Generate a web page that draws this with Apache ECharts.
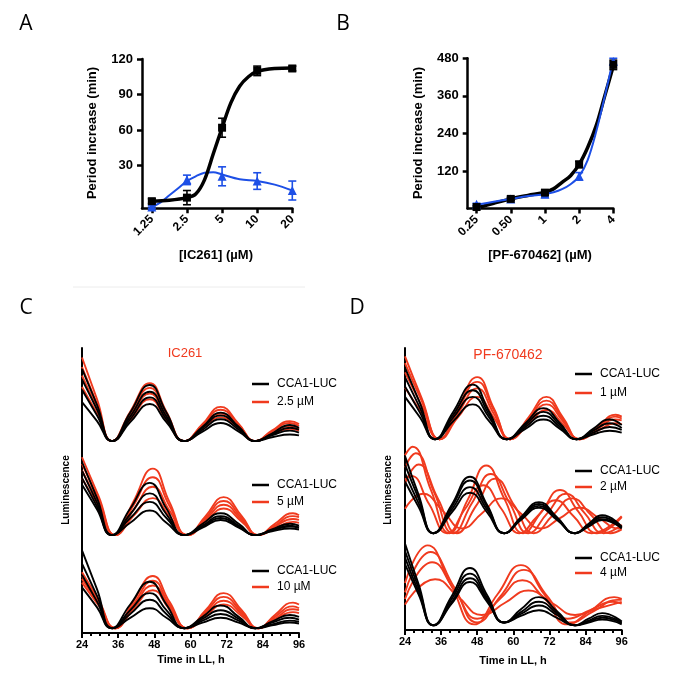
<!DOCTYPE html>
<html><head><meta charset="utf-8">
<script src="https://cdn.jsdelivr.net/npm/echarts@6.0.0/dist/echarts.min.js"></script>
<style>html,body{margin:0;padding:0;background:#fff}#c{width:683px;height:688px}</style>
</head><body><div id="c"></div>
<script>
// ---------- Panel A / B data ----------
const doseA = ['1.25','2.5','5','10','20'];
const doseB = ['0.25','0.50','1','2','4'];
const aBlack = [0,3,62,110,112];
const aBlackErr = [2,6,8,4,2];
const aBlue = [-5,18,21,17,9];
const aBlueErr = [1,4,8,7,8];
const aBlackFitX = [0,0.5,1,1.25,1.5,1.75,2,2.25,2.5,2.75,3,3.5,4];
const aBlackFitY = [0,0.8,3,6,18,40,62,83,97,105,109.5,112,112.5];
const aBlueFitX = [0,0.25,0.5,0.75,1,1.25,1.5,1.75,2,2.5,3,3.5,4];
const aBlueFitY = [-5,-1,5,11,17,21,24,24.5,22.5,18.5,17,14,9];
const bBlack = [5,31,51,141,459];
const bBlackErr = [3,5,8,10,15];
const bBlue = [14,31,46,103,470];
const bBlueErr = [3,4,10,12,10];
const bBlackFitX = [0,0.5,1,1.5,2,2.25,2.5,2.75,3,3.25,3.5,3.75,4];
const bBlackFitY = [2,17,31,42,52,63,84,105,141,195,265,360,455];
const bBlueFitX = [0,0.5,1,1.5,2,2.25,2.5,2.75,3,3.25,3.5,3.75,4];
const bBlueFitY = [12,22,31,40,46,52,62,78,103,155,246,358,478];
const yTicksA = [30,60,90,120];
const yTicksB = [120,240,360,480];

// ---------- Panel C / D luminescence traces (relative units, read at key times) ----------
const cT   = [24,29,34,40,46.5,52,58,64,70,76,81.5,87,93,96];
const cTr  = [24,29.5,35,41,47.5,53,59,65,71,77,82.5,88,94,96];
const dT1  = [24,29,34,40,46.5,52,57.8,64,70,75.5,81,86.5,92,96];
const dR1  = [24,29.5,35.5,41.5,48,53.5,59,65,71,76.5,82,88,94,96];
const dT23 = [24,28.5,33.5,39.5,45.6,51.3,57,62.5,68.5,74.5,80.5,85,89.5,96];
const dMidRedT = [
 [24,26.5,32.6,38.75,44.9,51,57.1,63.25,69.4,75.5,81.6,87.75,96],
 [24,27.5,33.75,40,46.25,52.5,58.75,65,71.25,77.5,83.75,90,96],
 [24,28.5,34.9,41.25,47.6,54,60.4,66.75,73.1,79.5,85.9,92.25,96],
 [24,26,32,38,44,50,56,62,68,74,80,86,96],
 [24,30,36.5,43,49.5,56,62.5,69,75.5,82,88.5,95,96]];
const dBotRedT = [
 [24,31.5,39.25,47,54.75,62.5,70.25,78,85.75,93.5,96],
 [24,32.5,40.25,48,55.75,63.5,71.25,79,86.75,94.5,96],
 [24,33,40.5,48,55.5,63,70.5,78,85.5,93,96],
 [24,34,41.75,49.5,57.25,65,72.75,80.5,88.25,96]];

const cCtlTop = [
 [78,40,2,32,61,32,2,17,32,17,2,10,19,16],
 [67,35,2,28,54,28,2,16,29,16,2,9,16,14],
 [56,29,2,25,48,25,2,14,25,14,2,8,13,11],
 [43,23,2,22,41,22,2,12,21,12,2,6,9,8]];
const cDrugTop = [
 [90,46,2,33,63,33,2,20,38,20,2,13,23,20],
 [80,41,2,30,58,30,2,19,35,19,2,12,21,18],
 [71,37,2,27,52,27,2,17,31,17,2,10,18,15],
 [59,31,2,24,46,24,2,15,27,15,2,9,15,13]];
const cCtlMid = [
 [80,42,3,31,58,31,3,15,26,15,3,9,15,13],
 [71,37,3,25,47,25,3,13,23,13,3,8,13,11],
 [63,33,3,21,38,21,3,12,21,12,3,8,12,11],
 [56,30,3,16,29,16,3,11,19,11,3,7,10,9]];
const cDrugMid = [
 [85,44,3,38,73,38,3,23,43,23,3,15,26,24],
 [78,41,3,34,64,34,3,21,39,21,3,13,23,22],
 [71,37,3,29,54,29,3,19,35,19,3,12,20,19],
 [63,33,3,23,42,23,3,17,31,17,3,10,17,16]];
const cCtlBot = [
 [87,46,5,30,54,30,5,17,29,17,5,12,19,17],
 [73,39,5,24,42,24,5,15,24,15,5,11,16,14],
 [61,33,5,20,35,20,5,13,20,13,5,9,13,12],
 [48,27,5,16,26,16,5,11,16,11,5,8,11,10]];
const cDrugBot = [
 [64,35,5,33,60,33,5,24,42,24,5,19,32,30],
 [60,33,5,30,55,30,5,22,38,22,5,17,28,26],
 [57,31,5,28,50,28,5,20,34,20,5,15,25,24],
 [53,29,5,25,45,25,5,18,30,18,5,14,22,21]];
const dCtlTop = [
 [79,41,3,32,61,32,3,20,36,20,3,14,24,18],
 [69,36,3,29,55,29,3,18,32,18,3,12,20,15],
 [59,31,3,26,48,26,3,16,28,16,3,10,16,13],
 [48,26,3,22,40,22,3,14,24,14,3,8,12,10]];
const dDrugTop = [
 [91,47,3,36,69,36,3,26,48,26,3,16,29,27],
 [84,44,3,34,64,34,3,24,44,24,3,15,27,25],
 [74,39,3,30,57,30,3,22,40,22,3,14,24,23],
 [58,31,3,26,48,26,3,19,34,19,3,12,20,19]];
const dCtlMid = [
 [85,44,3,33,63,33,3,20,36,20,3,13,22,10],
 [76,40,3,31,59,31,3,19,34,19,3,12,20,9],
 [67,35,3,28,52,28,3,18,32,18,3,11,18,9],
 [58,31,3,25,46,25,3,17,30,17,3,10,17,8]];
const dDrugMid = [
 [86,95,49,3,39,75,39,3,26,49,26,3,20],
 [73,88,46,3,35,66,35,3,24,45,24,3,12],
 [56,76,40,3,32,61,32,3,22,40,22,3,7],
 [60,64,34,3,29,54,29,3,21,38,21,3,21],
 [29,45,27,8,24,40,24,8,19,30,19,8,8]];
const dCtlBot = [
 [92,49,5,36,66,37,8,22,35,20,5,12,18,9],
 [84,45,5,33,60,34,8,19,30,18,5,10,15,8],
 [77,41,5,30,55,32,8,17,26,16,5,9,13,7],
 [70,38,5,28,51,30,8,15,21,13,5,8,11,6]];
const dDrugBot = [
 [50,90,48,6,38,69,38,6,21,35,33],
 [40,83,46,8,36,64,36,8,20,32,32],
 [33,72,42,12,33,53,33,12,21,30,28],
 [27,54,35,16,29,42,29,16,23,30]];
const legendCtl = 'CCA1-LUC';
const legendC = ['2.5 µM','5 µM','10 µM'];
const legendD = ['1 µM','2 µM','4 µM'];

// ---------- styling ----------
const BLACK = '#000000', BLUE = '#1d4fe6', RED = '#f03a1e';
const FONT = 'Liberation Sans, Arial, sans-serif';

const chart = echarts.init(document.getElementById('c'), null, {renderer:'canvas'});

function zip(xs, ys){ return xs.map((x,i)=>[x, ys[i]]); }
function errData(vals, errs){ return vals.map((v,i)=>[i, v-errs[i], v+errs[i]]); }
function errSeries(xi, data, color, cap){
  return {type:'custom', xAxisIndex:xi, yAxisIndex:xi, data, silent:true, z:4,
    renderItem(params, api){
      const x = api.value(0);
      const p1 = api.coord([x, api.value(1)]), p2 = api.coord([x, api.value(2)]);
      const st = {stroke:color, lineWidth:1.6};
      return {type:'group', children:[
        {type:'line', shape:{x1:p1[0],y1:p1[1],x2:p2[0],y2:p2[1]}, style:st},
        {type:'line', shape:{x1:p1[0]-cap,y1:p1[1],x2:p1[0]+cap,y2:p1[1]}, style:st},
        {type:'line', shape:{x1:p2[0]-cap,y1:p2[1],x2:p2[0]+cap,y2:p2[1]}, style:st}]};
    }};
}

const grids = [
  {left:142, top:59, width:150.3, height:149.3},
  {left:467.7, top:58.3, width:145.6, height:150.3},
  {left:82, top:348, width:217, height:95},
  {left:82, top:443, width:217, height:95},
  {left:82, top:538, width:217, height:95},
  {left:405, top:348, width:216.7, height:94},
  {left:405, top:442, width:216.7, height:94},
  {left:405, top:536, width:216.7, height:94}
];

function doseXAxis(gi, min, labels){
  return {gridIndex:gi, type:'value', min:min, max:4,
    axisLine:{onZero:false, lineStyle:{color:BLACK, width:2.5}},
    axisTick:{customValues:[0,1,2,3,4], length:5, lineStyle:{color:BLACK, width:2.5}},
    axisLabel:{customValues:[0,1,2,3,4], formatter:v=>labels[Math.round(v)], rotate:45,
      color:BLACK, fontWeight:'bold', fontSize:12, fontFamily:FONT, margin:9},
    splitLine:{show:false}};
}
function doseYAxis(gi, min, max, ticks){
  return {gridIndex:gi, type:'value', min, max,
    axisLine:{show:true, onZero:false, lineStyle:{color:BLACK, width:2.5}},
    axisTick:{show:true, customValues:ticks, length:5, lineStyle:{color:BLACK, width:2.5}},
    axisLabel:{customValues:ticks, color:BLACK, fontWeight:'bold', fontSize:13, fontFamily:FONT, margin:9},
    splitLine:{show:false}};
}
function timeXAxis(gi, show){
  return {gridIndex:gi, type:'value', min:24, max:96, interval:12, show:show,
    axisLine:{onZero:false, lineStyle:{color:BLACK, width:2}},
    axisTick:{length:5, lineStyle:{color:BLACK, width:2}},
    minorTick:{show:true, splitNumber:4, length:3, lineStyle:{color:BLACK, width:2}},
    axisLabel:{color:BLACK, fontWeight:'bold', fontSize:11, fontFamily:FONT, margin:6},
    splitLine:{show:false}};
}
function lumYAxis(gi){
  return {gridIndex:gi, type:'value', min:0, max:100,
    axisLine:{show:true, onZero:false, lineStyle:{color:BLACK, width:2}},
    axisTick:{show:false}, axisLabel:{show:false}, splitLine:{show:false}};
}

const xAxes = [doseXAxis(0,-0.28,doseA), doseXAxis(1,-0.26,doseB),
  timeXAxis(2,false), timeXAxis(3,false), timeXAxis(4,true),
  timeXAxis(5,false), timeXAxis(6,false), timeXAxis(7,true)];
const yAxes = [doseYAxis(0,-6,120,yTicksA), doseYAxis(1,0,480,yTicksB),
  lumYAxis(2), lumYAxis(3), lumYAxis(4), lumYAxis(5), lumYAxis(6), lumYAxis(7)];

const series = [];
function fitLine(ai, xs, ys, color, w){
  series.push({type:'line', xAxisIndex:ai, yAxisIndex:ai, data:zip(xs,ys), smooth:0.35,
    showSymbol:false, symbol:'none', silent:true, z:3, lineStyle:{color, width:w}});
}
function points(ai, vals, color, sym, size){
  series.push({type:'scatter', xAxisIndex:ai, yAxisIndex:ai, data:vals.map((v,i)=>[i,v]),
    symbol:sym, symbolSize:size, itemStyle:{color, opacity:1}, silent:true, z:5});
}
// Panel A
fitLine(0, aBlueFitX, aBlueFitY, BLUE, 2);
series.push(errSeries(0, errData(aBlue,aBlueErr), BLUE, 4));
points(0, aBlue, BLUE, 'triangle', 9);
fitLine(0, aBlackFitX, aBlackFitY, BLACK, 3.5);
series.push(errSeries(0, errData(aBlack,aBlackErr), BLACK, 4));
points(0, aBlack, BLACK, 'rect', 8);
// Panel B
fitLine(1, bBlackFitX, bBlackFitY, BLACK, 3.5);
series.push(errSeries(1, errData(bBlue,bBlueErr), BLUE, 4));
points(1, bBlue, BLUE, 'triangle', 9);
fitLine(1, bBlueFitX, bBlueFitY, BLUE, 2);
series.push(errSeries(1, errData(bBlack,bBlackErr), BLACK, 4));
points(1, bBlack, BLACK, 'rect', 8);

// Panels C, D
function traces(gi, times, sets, color){
  sets.forEach((tr, k) => {
    const t = Array.isArray(times[0]) ? times[k] : times;
    series.push({type:'line', xAxisIndex:gi, yAxisIndex:gi,
      data:zip(t, tr), smooth:0.5, showSymbol:false, symbol:'none', silent:true,
      lineStyle:{color, width:1.9}});
  });
}
traces(2, cT, cDrugTop, RED);   traces(2, cT, cCtlTop, BLACK);
traces(3, cTr, cDrugMid, RED);  traces(3, cT, cCtlMid, BLACK);
traces(4, cTr, cDrugBot, RED);  traces(4, cT, cCtlBot, BLACK);
traces(5, dR1, dDrugTop, RED);  traces(5, dT1, dCtlTop, BLACK);
traces(6, dMidRedT, dDrugMid, RED); traces(6, dT23, dCtlMid, BLACK);
traces(7, dBotRedT, dDrugBot, RED); traces(7, dT23, dCtlBot, BLACK);

// ---------- texts / legends ----------
const g = [];
function txt(x, y, text, opt){
  opt = opt || {};
  g.push({type:'text', x, y, rotation:opt.rot||0, silent:true, z:10,
    style:{text, fill:opt.color||BLACK, align:opt.align||'center', verticalAlign:'middle',
      font:(opt.weight||'normal')+' '+(opt.size||12)+'px '+(opt.family||FONT)}});
}
const LET = 'Open Sans, Noto Sans, sans-serif';
txt(26, 24, 'A', {size:21, family:LET});
txt(343, 24, 'B', {size:21, family:LET});
txt(26, 308, 'C', {size:21, family:LET});
txt(357, 308, 'D', {size:21, family:LET});
txt(92, 133, 'Period increase (min)', {rot:Math.PI/2, weight:'bold', size:13});
txt(418, 133, 'Period increase (min)', {rot:Math.PI/2, weight:'bold', size:13});
txt(216, 255, '[IC261] (µM)', {weight:'bold', size:13});
txt(540, 255, '[PF-670462] (µM)', {weight:'bold', size:13});
txt(66, 490, 'Luminescence', {rot:Math.PI/2, weight:'bold', size:10});
txt(388, 490, 'Luminescence', {rot:Math.PI/2, weight:'bold', size:10});
txt(191, 660, 'Time in LL, h', {weight:'bold', size:11});
txt(513, 661, 'Time in LL, h', {weight:'bold', size:11});
txt(185, 353, 'IC261', {color:RED, size:13});
txt(508, 355, 'PF-670462', {color:RED, size:14});
function legend(x0, x1, tx, y1, y2, label){
  g.push({type:'line', shape:{x1:x0,y1:y1,x2:x1,y2:y1}, style:{stroke:BLACK, lineWidth:2.5}, silent:true});
  g.push({type:'line', shape:{x1:x0,y1:y2,x2:x1,y2:y2}, style:{stroke:RED, lineWidth:2.5}, silent:true});
  txt(tx, y1, legendCtl, {align:'left', size:12});
  txt(tx, y2, label, {align:'left', size:12});
}
legend(252, 269, 277, 384, 402, legendC[0]);
legend(252, 269, 277, 485, 502, legendC[1]);
legend(252, 269, 277, 571, 587, legendC[2]);
legend(575, 592, 600, 374, 393, legendD[0]);
legend(575, 592, 600, 471, 487, legendD[1]);
legend(575, 592, 600, 558, 573, legendD[2]);
g.push({type:'line', shape:{x1:73,y1:287,x2:305,y2:287}, style:{stroke:'#ececec', lineWidth:1}, silent:true});

chart.setOption({
  animation:false,
  backgroundColor:'#ffffff',
  grid:grids, xAxis:xAxes, yAxis:yAxes, series, graphic:g
});
</script></body></html>
